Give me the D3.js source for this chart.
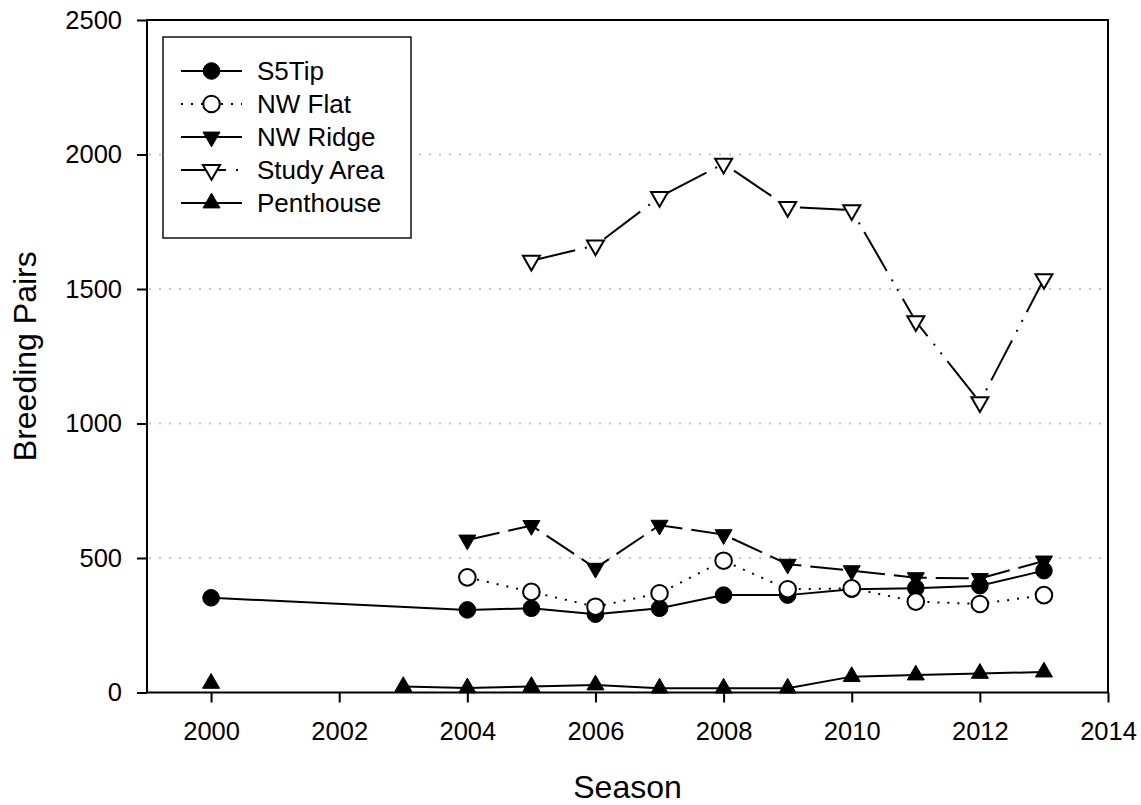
<!DOCTYPE html>
<html>
<head>
<meta charset="utf-8">
<script src="https://cdn.jsdelivr.net/npm/d3@7"></script>
<style>
  html, body { margin: 0; padding: 0; background: #fff; }
  svg { display: block; }
  text { font-family: "Liberation Sans", Arial, Helvetica, sans-serif; fill: #000; }
</style>
</head>
<body>
<svg id="chart" width="1141" height="805"></svg>
<script>
// Breeding pairs per season at each colony site
const seasons   = [2000, 2001, 2002, 2003, 2004, 2005, 2006, 2007, 2008, 2009, 2010, 2011, 2012, 2013];
const s5Tip     = [352, null, null, null, 307, 313, 291, 313, 362, 362, 384, 388, 397, 453];
const nwFlat    = [null, null, null, null, 428, 374, 319, 369, 490, 384, 387, 338, 329, 362];
const nwRidge   = [null, null, null, null, 567, 621, 462, 622, 587, 477, 453, 427, 424, 489];
const studyArea = [null, null, null, null, null, 1605, 1662, 1842, 1966, 1805, 1793, 1380, 1079, 1537];
const penthouse = [34, null, null, 22, 17, 22, 28, 16, 16, 16, 59, 65, 71, 76];

const xTicks = [2000, 2002, 2004, 2006, 2008, 2010, 2012, 2014];
const yTicks = [0, 500, 1000, 1500, 2000, 2500];
const gridValues = [500, 1000, 1500, 2000];

const seriesNames = ["S5Tip", "NW Flat", "NW Ridge", "Study Area", "Penthouse"];
const seriesValues = [s5Tip, nwFlat, nwRidge, studyArea, penthouse];

// Drawing style per series: symbol, fill, dash pattern, and whether the line spans missing seasons
const seriesStyle = [
  { shape: "circle", fill: "#000", dash: null, bridge: true },
  { shape: "circle", fill: "#fff", dash: "2,8", bridge: true },
  { shape: "down",   fill: "#000", dash: "33,9", bridge: true },
  { shape: "down",   fill: "#fff", dash: "45,10,2,9,2,9", bridge: true },
  { shape: "up",     fill: "#000", dash: null, bridge: false }
];

const svg = d3.select("#chart");
const plot = { left: 147, right: 1108, top: 20, bottom: 692.5 };

const x = d3.scaleLinear().domain([1999, 2014]).range([plot.left, plot.right]);
const y = d3.scaleLinear().domain([0, 2500]).range([plot.bottom, plot.top]);

// Dotted horizontal gridlines
svg.append("g")
  .selectAll("line")
  .data(gridValues)
  .join("line")
  .attr("x1", plot.left + 2)
  .attr("x2", plot.right - 2)
  .attr("y1", d => y(d))
  .attr("y2", d => y(d))
  .attr("stroke", "#c4c4c4")
  .attr("stroke-width", 2)
  .attr("stroke-dasharray", "2,8");

// Axes
const xAxis = d3.axisBottom(x)
  .tickValues(xTicks)
  .tickFormat(d3.format("d"))
  .tickSize(10)
  .tickPadding(19);
const yAxis = d3.axisLeft(y)
  .tickValues(yTicks)
  .tickFormat(d3.format("d"))
  .tickSize(10)
  .tickPadding(15);

const gx = svg.append("g").attr("transform", `translate(0,${plot.bottom})`).call(xAxis);
const gy = svg.append("g").attr("transform", `translate(${plot.left},0)`).call(yAxis);
[gx, gy].forEach(g => {
  g.select(".domain").remove();
  g.selectAll(".tick line").attr("stroke", "#000").attr("stroke-width", 2);
  g.selectAll(".tick text")
    .attr("fill", "#000")
    .style("font-size", "25.5px")
    .style("font-family", "'Liberation Sans', Arial, sans-serif");
});

// Plot frame
svg.append("rect")
  .attr("x", plot.left)
  .attr("y", plot.top)
  .attr("width", plot.right - plot.left)
  .attr("height", plot.bottom - plot.top)
  .attr("fill", "none")
  .attr("stroke", "#000")
  .attr("stroke-width", 2);

// Axis titles
svg.append("text")
  .attr("x", (plot.left + plot.right) / 2)
  .attr("y", 798)
  .attr("text-anchor", "middle")
  .style("font-size", "32px")
  .text("Season");

svg.append("text")
  .attr("transform", `translate(36,${(plot.top + plot.bottom) / 2}) rotate(-90)`)
  .attr("text-anchor", "middle")
  .style("font-size", "32px")
  .text("Breeding Pairs");

// Marker path generator, centred on the symbol's centroid
function markerPath(shape) {
  if (shape === "circle") return d3.symbol(d3.symbolCircle, Math.PI * 8.3 * 8.3)();
  const s = 17, h = s * Math.sqrt(3) / 2;
  if (shape === "up") {
    return `M0,${-2 * h / 3}L${s / 2},${h / 3}L${-s / 2},${h / 3}Z`;
  }
  return `M0,${2 * h / 3}L${s / 2},${-h / 3}L${-s / 2},${-h / 3}Z`;
}

function drawMarker(g, shape, fill, cx, cy) {
  g.append("path")
    .attr("d", markerPath(shape))
    .attr("transform", `translate(${cx},${cy})`)
    .attr("fill", fill)
    .attr("stroke", "#000")
    .attr("stroke-width", fill === "#fff" ? 2 : 1)
    .attr("stroke-linejoin", "miter");
}

// Series: line then symbols
seriesValues.forEach((vals, i) => {
  const st = seriesStyle[i];
  let pts = seasons.map((s, k) => ({ season: s, value: vals[k] }));
  if (st.bridge) pts = pts.filter(p => p.value !== null);

  const line = d3.line()
    .defined(p => p.value !== null)
    .x(p => x(p.season))
    .y(p => y(p.value));

  const g = svg.append("g");
  g.append("path")
    .attr("d", line(pts))
    .attr("fill", "none")
    .attr("stroke", "#000")
    .attr("stroke-width", 2)
    .attr("stroke-dasharray", st.dash);

  pts.filter(p => p.value !== null).forEach(p => {
    drawMarker(g, st.shape, st.fill, x(p.season), y(p.value));
  });
});

// Legend
const legend = svg.append("g");
legend.append("rect")
  .attr("x", 163)
  .attr("y", 37)
  .attr("width", 248)
  .attr("height", 201)
  .attr("fill", "#fff")
  .attr("stroke", "#000")
  .attr("stroke-width", 1.4);

seriesNames.forEach((name, i) => {
  const st = seriesStyle[i];
  const cy = 71 + i * 33;
  legend.append("line")
    .attr("x1", 181).attr("x2", 242)
    .attr("y1", cy).attr("y2", cy)
    .attr("stroke", "#000")
    .attr("stroke-width", 2)
    .attr("stroke-dasharray", st.dash === "33,9" ? null : st.dash);
  drawMarker(legend, st.shape, st.fill, 211.5, cy);
  legend.append("text")
    .attr("x", 257)
    .attr("y", cy + 9)
    .style("font-size", "26px")
    .text(name);
});
</script>
</body>
</html>
